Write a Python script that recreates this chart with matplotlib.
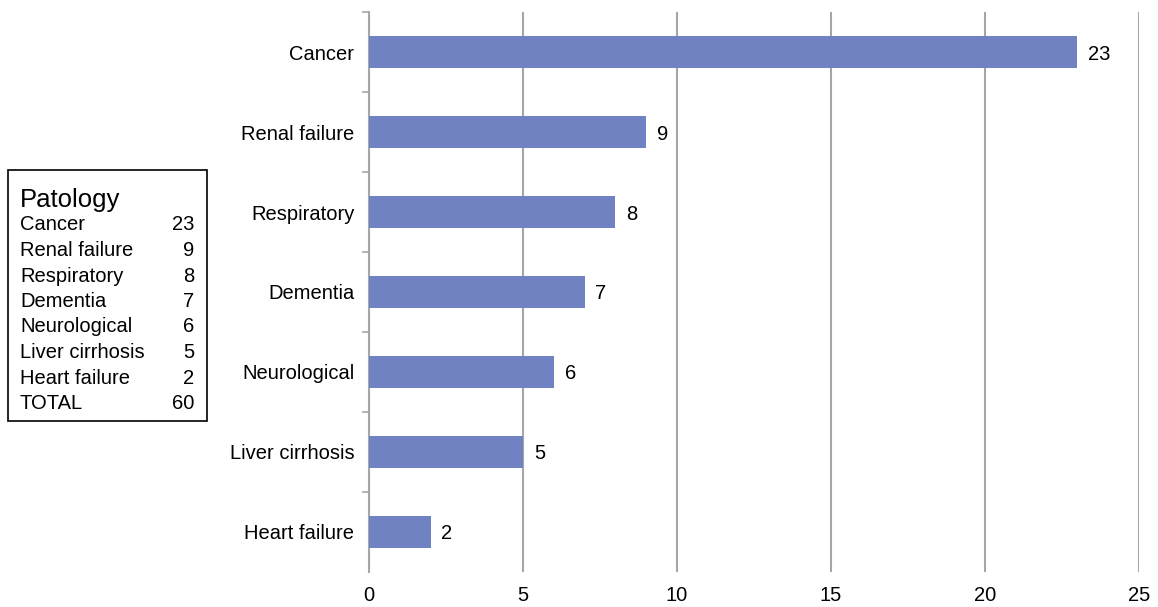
import matplotlib.pyplot as plt
from matplotlib.patches import Rectangle

plt.rcParams['font.family'] = ['Liberation Sans', 'DejaVu Sans']

categories = ['Cancer', 'Renal failure', 'Respiratory', 'Dementia',
              'Neurological', 'Liver cirrhosis', 'Heart failure']
counts = [23, 9, 8, 7, 6, 5, 2]
total_label = 'TOTAL'
total = 60
xticks = [0, 5, 10, 15, 20, 25]

bar_color = '#7082c1'
grid_color = '#a6a6a6'
fs = 14.5

fig = plt.figure(figsize=(11.58, 6.07), dpi=100)
ax = fig.add_axes([0.3187, 0.0577, 0.6649, 0.9225])

n = len(categories)
ypos = list(range(n))
ax.barh(ypos, counts, height=0.4, color=bar_color, zorder=3)
for y, v in zip(ypos, counts):
    ax.text(v + 0.35, y, str(v), va='center_baseline', ha='left', fontsize=fs)

ax.set_xlim(0, 25)
ax.set_ylim(n - 0.5, -0.5)
ax.set_xticks(xticks)
ax.set_xticklabels([str(t) for t in xticks], fontsize=fs)
ax.tick_params(axis='x', length=0, pad=10)
ax.xaxis.grid(True, color=grid_color, linewidth=1.5, zorder=0)

ax.set_yticks(ypos)
ax.set_yticklabels(categories, fontsize=fs, va='center_baseline')
ax.tick_params(axis='y', which='major', length=0, pad=10.5)
ax.set_yticks([i - 0.5 for i in range(n)], minor=True)
ax.tick_params(axis='y', which='minor', length=5, color=grid_color, width=1.2)

for s in ['top', 'right', 'bottom']:
    ax.spines[s].set_visible(False)
ax.spines['left'].set_color(grid_color)
ax.spines['left'].set_linewidth(1.5)

# side table
fig.patches.append(Rectangle((8 / 1158, 1 - 421 / 607), 199 / 1158, 251 / 607,
                             transform=fig.transFigure, fill=False,
                             edgecolor='black', linewidth=1.2))
fig.text(20 / 1158, 1 - 197 / 607, 'Patology', fontsize=18.5,
         va='center_baseline', ha='left')
rows = list(zip(categories, counts)) + [(total_label, total)]
for i, (name, v) in enumerate(rows):
    yy = 1 - (223 + i * 25.5) / 607
    fig.text(20 / 1158, yy, name, fontsize=fs, va='center_baseline', ha='left')
    fig.text(194 / 1158, yy, str(v), fontsize=fs, va='center_baseline', ha='right')

fig.savefig('out.png', dpi=100)
